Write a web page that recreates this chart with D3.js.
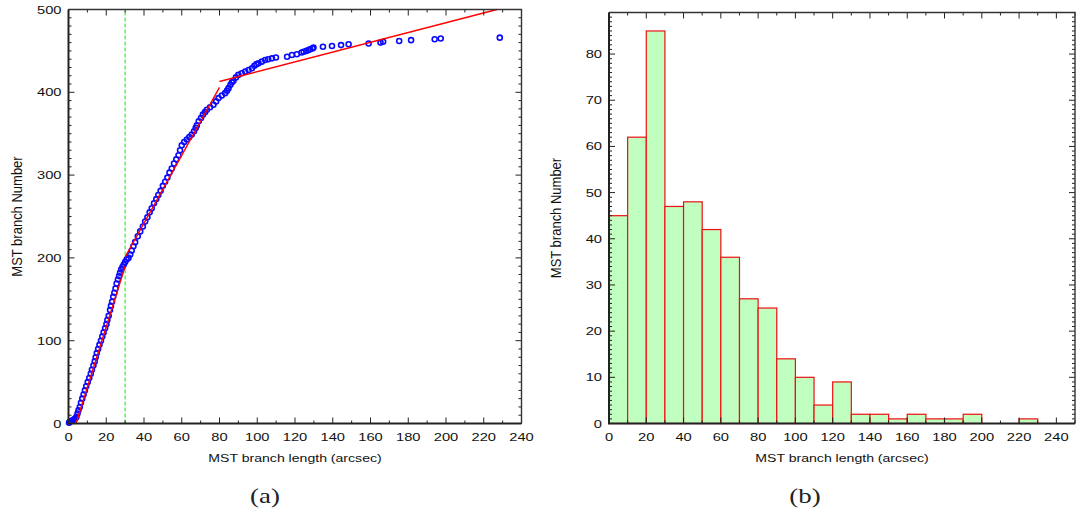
<!DOCTYPE html>
<html><head><meta charset="utf-8">
<script src="https://cdn.jsdelivr.net/npm/d3@7"></script>
<style>
html,body{margin:0;padding:0;background:#fff;}
svg text{font-family:"Liberation Sans",Arial,Helvetica,sans-serif;fill:#111;}
</style></head>
<body>
<svg id="c" width="1088" height="516"></svg>
<script>
// ---- Data ----
// (a) sorted MST branch lengths (arcsec) vs. cumulative branch number
const branchLength = [0.3,0.8,1.5,2.2,3.0,3.6,4.2,4.8,5.3,6.0,6.6,7.3,8.0,8.7,9.4,10.2,11.0,11.8,12.4,13.2,13.9,14.4,15.0,15.7,16.4,17.2,17.9,18.6,19.4,20.1,20.6,21.3,22.0,22.5,23.1,23.7,24.3,24.9,25.5,26.2,26.8,27.3,27.9,28.6,29.3,30.0,30.8,31.8,32.7,33.5,34.4,35.3,36.7,38.0,39.4,40.6,41.8,43.0,44.1,45.3,46.5,47.6,48.8,50.0,51.2,52.4,53.5,54.7,55.9,57.1,58.3,59.1,60.0,61.3,62.7,64.0,65.3,66.5,67.4,68.0,69.0,70.2,71.2,72.3,73.3,75.0,76.8,78.2,79.5,81.2,83.0,84.0,84.8,85.8,86.6,87.4,88.7,90.0,91.8,93.6,95.4,97.2,98.5,99.6,100.7,102.4,104.2,105.8,107.8,109.9,115.8,118.4,121.0,123.5,124.6,126.0,127.2,128.0,129.3,129.8,134.8,139.6,144.4,148.4,159.0,165.3,166.7,175.2,181.5,194.0,197.2,228.5];
const branchNumber = [1,2,3,4,5,6,8,12,16,20,25,30,35,40,45,50,55,60,65,70,75,80,85,90,95,100,105,110,115,120,125,130,137,142,147,153,158,163,169,174,178,182,186,189,192,195,198,200,204,209,214,219,226,232,238,244,249,255,260,266,271,276,281,287,292,297,303,308,314,319,324,330,336,340,343,346,349,353,357,360,365,369,373,376,379,382,385,389,393,396,399,402,405,409,412,414,418,421,423,425,427,429,432,434,435,437,439,440,441,442,443,445,446,448,449,450,451,452,453,454,455,456,457,458,459,460,461,462,463,464,465,466];
// fitted straight lines (start length, start number, end length, end number)
const fitX1 = [4.0, 30.0, 80.0];
const fitY1 = [0, 201, 413];
const fitX2 = [30.0, 80.0, 227.0];
const fitY2 = [190, 406, 500];
const cutLength = 30;
// (b) histogram of branch lengths, bins of 10 arcsec
const binStart = [0,10,20,30,40,50,60,70,80,90,100,110,120,130,140,150,160,170,180,190,200,210,220,230,240];
const binCount = [45,62,85,47,48,42,36,27,25,14,10,4,9,2,2,1,2,1,1,2,0,0,1,0,0];
const binWidth = 10;
// tick labels
const xTickA = [0,20,40,60,80,100,120,140,160,180,200,220,240];
const xMinorA = [10,30,50,70,90,110,130,150,170,190,210,230];
const yTickA = [0,100,200,300,400,500];
const yMinorA = [10,20,30,40,50,60,70,80,90,110,120,130,140,150,160,170,180,190,210,220,230,240,250,260,270,280,290,310,320,330,340,350,360,370,380,390,410,420,430,440,450,460,470,480,490];
const xTickB = [0,20,40,60,80,100,120,140,160,180,200,220,240];
const xMinorB = [10,30,50,70,90,110,130,150,170,190,210,230,250];
const yTickB = [0,10,20,30,40,50,60,70,80];
const yMinorB = [1,2,3,4,5,6,7,8,9,11,12,13,14,15,16,17,18,19,21,22,23,24,25,26,27,28,29,31,32,33,34,35,36,37,38,39,41,42,43,44,45,46,47,48,49,51,52,53,54,55,56,57,58,59,61,62,63,64,65,66,67,68,69,71,72,73,74,75,76,77,78,79,81,82,83,84,85,86,87,88];
const xTitle = "MST branch length (arcsec)";
const yTitle = "MST branch Number";
const captions = ["(a)","(b)"];

const svg = d3.select("#c");
const SX = 1.28; // the figure's text is horizontally stretched

function wideText(g, x, y, str, size, anchor) {
  return g.append("text").attr("transform",`translate(${x},${y}) scale(${SX},1)`)
    .attr("text-anchor",anchor).attr("font-size",size).text(str);
}

function frame(g, x, y, xt, xm, yt, ym) {
  const [x0,x1] = x.range(), [y0,y1] = y.range();
  const tk = g.append("g").attr("stroke","#222").attr("stroke-width",1);
  const seg = (a,b,c,d)=>tk.append("line").attr("x1",a).attr("y1",b).attr("x2",c).attr("y2",d);
  xt.forEach(v=>{ seg(x(v),y0,x(v),y0-6); seg(x(v),y1,x(v),y1+6); });
  xm.forEach(v=>{ seg(x(v),y0,x(v),y0-3); seg(x(v),y1,x(v),y1+3); });
  yt.forEach(v=>{ seg(x0,y(v),x0+6,y(v)); seg(x1,y(v),x1-6,y(v)); });
  ym.forEach(v=>{ seg(x0,y(v),x0+3,y(v)); seg(x1,y(v),x1-3,y(v)); });
  g.append("path").attr("d",`M${x0},${y1}H${x1}V${y0}`).attr("fill","none").attr("stroke","#333").attr("stroke-width",1.4);
  g.append("path").attr("d",`M${x0},${y1}V${y0}H${x1}`).attr("fill","none").attr("stroke","#222").attr("stroke-width",2);
  xt.forEach(v=>wideText(g, x(v), y0+17.5, v, 11.5, "middle"));
  yt.forEach(v=>wideText(g, x0-7, y(v)+4, v, 11.5, "end"));
  wideText(g, (x0+x1)/2, y0+38, xTitle, 11, "middle");
}

function caption(g, cx, str) {
  g.append("text").attr("transform",`translate(${cx},503) scale(1.28,1)`).attr("text-anchor","middle")
    .style("font-family","'Liberation Serif','Times New Roman',serif").style("font-weight","normal")
    .style("fill","#222").attr("font-size",21).text(str);
}

// ---- (a) ----
const xA = d3.scaleLinear([0,240],[68.5,521.5]);
const yA = d3.scaleLinear([0,500],[423.5,9.5]);
const gA = svg.append("g");
gA.append("line").attr("x1",xA(cutLength)).attr("x2",xA(cutLength)).attr("y1",yA(0)).attr("y2",yA(500))
  .attr("stroke","#44ee44").attr("stroke-width",1.3).attr("stroke-dasharray","4,2");
gA.append("g").selectAll("circle").data(branchLength).join("circle")
  .attr("cx",d=>xA(d)).attr("cy",(d,i)=>yA(branchNumber[i])).attr("r",2.5)
  .attr("fill","none").attr("stroke","#0a0aff").attr("stroke-width",1.6);
gA.append("g").selectAll("line").data(fitX1).join("line")
  .attr("x1",d=>xA(d)).attr("y1",(d,i)=>yA(fitY1[i]))
  .attr("x2",(d,i)=>xA(fitX2[i])).attr("y2",(d,i)=>yA(fitY2[i]))
  .attr("stroke","#ff0000").attr("stroke-width",1.4);
frame(gA, xA, yA, xTickA, xMinorA, yTickA, yMinorA);
gA.append("text").attr("transform",`translate(22,${(yA(0)+yA(500))/2}) rotate(-90) scale(1,1.15)`)
  .attr("text-anchor","middle").attr("font-size",13).text(yTitle);
caption(gA, (xA(0)+xA(240))/2 - 30, captions[0]);

// ---- (b) ----
const xB = d3.scaleLinear([0,250],[609,1075]);
const yB = d3.scaleLinear([0,89],[423.5,12.5]);
const gB = svg.append("g");
gB.append("g").selectAll("rect").data(binStart.filter((d,i)=>binCount[i]>0)).join("rect")
  .attr("x",d=>xB(d)).attr("width",xB(binWidth)-xB(0))
  .attr("y",d=>yB(binCount[binStart.indexOf(d)]))
  .attr("height",d=>yB(0)-yB(binCount[binStart.indexOf(d)]))
  .attr("fill","#c1ffc1").attr("stroke","#ee1010").attr("stroke-width",1.2);
frame(gB, xB, yB, xTickB, xMinorB, yTickB, yMinorB);
gB.append("text").attr("transform",`translate(561,${(yB(0)+yB(89))/2}) rotate(-90) scale(1,1.15)`)
  .attr("text-anchor","middle").attr("font-size",13).text(yTitle);
caption(gB, (xB(0)+xB(250))/2 - 37, captions[1]);
</script>
</body></html>
